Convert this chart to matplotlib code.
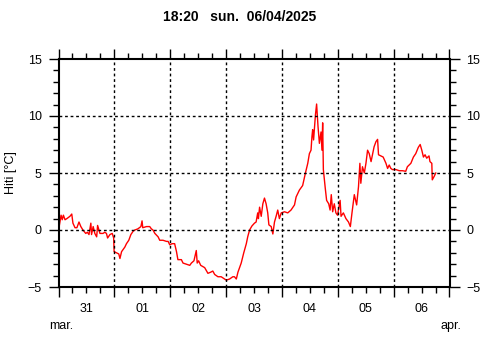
import numpy as np
import matplotlib.pyplot as plt
import matplotlib.transforms as mtransforms

plt.rcParams['font.family'] = ['Liberation Sans', 'DejaVu Sans']

# hours since 31 mar 00:00 and temperature
hours = [0.2, 1.1, 1.6, 2.1, 2.8, 3.6, 4.9, 5.7, 6.2, 7.1, 7.9, 8.8, 9.6, 10.5,
         11.7, 12.4, 13.1, 13.9, 14.2, 14.9, 15.6, 16.4, 16.8, 17.8, 19.1, 19.9,
         20.6, 21.1, 22.1, 23.1, 23.7, 23.9, 24.9, 25.9, 26.4, 27.1, 28.5, 29.2,
         30.2, 31.1, 32.1, 32.8, 34.1, 35.4, 35.9, 36.2, 37.8, 39.2, 39.9, 40.6,
         41.4, 42.8, 43.5, 44.9, 46.4, 47.1, 47.8, 48.8, 49.9, 50.7, 51.3, 52.8,
         53.5, 54.9, 56.4, 57.1, 58.2, 59.2, 59.6, 60.2, 61.1, 62.8, 64.2, 65.4,
         66.3, 67.1, 68.5, 69.9, 71.4, 72.1, 73.5, 74.9, 75.6, 76.4, 77.1, 78.5,
         79.6, 80.7, 81.3, 82.1, 83.1, 84.2, 84.9, 85.6, 85.9, 86.4, 87.1, 87.8,
         88.5, 89.2, 89.9, 90.4, 91.4, 92.1, 92.8, 93.5, 94.2, 94.9, 95.7, 97.1,
         98.5, 99.9, 101.4, 102.1, 103.5, 104.9, 106.1, 107.1, 107.8, 108.5,
         108.9, 109.2, 109.6, 110.4, 110.9, 111.5, 112.1, 112.8, 113.2, 113.5,
         113.8, 114.6, 115.2, 116.1, 116.7, 117.2, 117.8, 118.5, 119.2, 119.9,
         121.0, 121.4, 122.4, 123.5, 124.6, 125.4, 126.1, 127.1, 128.1, 128.9,
         129.5, 129.9, 130.6, 131.4, 132.1, 132.8, 133.5, 134.3, 135.0, 135.6,
         136.4, 137.1, 137.5, 138.5, 139.5, 140.7, 141.4, 142.1, 142.8, 143.5,
         145.0, 146.4, 147.8, 149.2, 149.9, 151.4, 152.5, 153.5, 154.6, 155.4,
         156.1, 156.8, 157.5, 158.2, 159.2, 159.6, 160.4, 160.6, 161.4, 162.1]
temps = [0.2, 1.3, 0.9, 1.3, 0.9, 1.0, 1.2, 1.4, 0.6, 0.2, 0.2, 0.7, 0.3, 0.0,
         -0.3, -0.2, -0.4, 0.6, -0.4, 0.3, -0.3, -0.6, 0.4, -0.3, -0.3, -0.2,
         -0.3, -0.7, -0.4, -0.3, -0.7, -1.9, -2.0, -2.1, -2.5, -1.9, -1.5, -1.2,
         -0.9, -0.4, -0.1, 0.0, 0.1, 0.3, 0.8, 0.2, 0.3, 0.3, 0.1, 0.0,
         -0.3, -0.6, -0.9, -0.9, -1.0, -1.0, -1.3, -1.2, -1.2, -1.9, -2.6, -2.6,
         -2.9, -3.0, -3.1, -2.9, -2.7, -1.8, -2.9, -2.7, -3.1, -3.3, -3.8, -3.7,
         -3.6, -3.9, -4.1, -4.1, -4.3, -4.4, -4.3, -4.1, -4.1, -4.3, -3.7, -2.9,
         -2.0, -1.2, -0.6, 0.0, 0.35, 0.6, 0.7, 1.5, 1.0, 2.0, 1.2, 2.3,
         2.8, 2.3, 1.5, 0.45, 0.3, -0.35, 0.7, 1.2, 1.75, 1.0, 1.5, 1.6,
         1.5, 1.75, 2.2, 2.9, 3.5, 3.9, 5.0, 5.85, 6.7, 7.0,
         8.2, 8.8, 7.9, 10.1, 11.05, 9.1, 7.6, 8.6, 7.0, 9.4,
         5.3, 3.7, 2.6, 2.3, 1.75, 3.1, 1.6, 2.3, 1.5, 1.3,
         2.6, 1.2, 1.5, 1.0, 0.7, 0.3, 1.5, 3.1, 2.2, 3.8,
         5.85, 4.1, 5.55, 5.0, 5.85, 7.0, 6.7, 6.0, 6.7, 7.3,
         7.75, 7.95, 6.6, 6.5, 6.4, 5.85, 5.4, 5.7, 5.4, 5.3,
         5.3, 5.2, 5.2, 5.15, 5.55, 5.85, 6.4, 6.7, 7.25, 7.5,
         7.0, 6.4, 6.6, 6.3, 6.5, 6.0, 5.85, 4.4, 4.7, 5.0]

day_labels = ['31', '01', '02', '03', '04', '05', '06']
title = '18:20   sun.  06/04/2025'

fig = plt.figure(figsize=(4.8, 3.6), dpi=100)
ax = fig.add_axes([58.5 / 480, 73 / 360, 391 / 480, 228 / 360])

ax.plot(hours, temps, color='red', linewidth=1)

ax.set_xlim(0, 168)
ax.set_ylim(-5, 15)

# grid at day boundaries and every 5 degrees
for d in range(1, 7):
    ax.axvline(d * 24, color='black', linestyle=(0, (2, 2)), linewidth=1)
for t in (0, 5, 10):
    ax.axhline(t, color='black', linestyle=(0, (2, 2)), linewidth=1)

ax.set_xticks(np.arange(0, 169, 24))
ax.set_xticks(np.arange(0, 169, 6), minor=True)
ax.set_yticks(np.arange(-5, 16, 5))
ax.set_yticks(np.arange(-5, 16, 1), minor=True)
ax.set_xticklabels([])

ax.tick_params(axis='both', which='both', direction='out', color='black',
               top=True, right=True, labelright=True, labelsize=9, width=1)
ax.tick_params(which='major', length=7, pad=5)
ax.tick_params(which='minor', length=4)

for s in ax.spines.values():
    s.set_linewidth(1.5)

trans = mtransforms.blended_transform_factory(ax.transData, ax.transAxes)
for i, lab in enumerate(day_labels):
    ax.text(i * 24 + 12, -0.07, lab, transform=trans, ha='center', va='top', fontsize=9)
ax.text(-0.025, -0.145, 'mar.', transform=ax.transAxes, ha='left', va='top', fontsize=9)
ax.text(1.03, -0.145, 'apr.', transform=ax.transAxes, ha='right', va='top', fontsize=9)

ax.set_ylabel('Hiti [°C]', fontsize=9, labelpad=8)

fig.text(0.5, 1 - 17 / 360, title, ha='center', va='center',
         fontsize=10, fontweight='bold')

fig.savefig('out.png', dpi=100)
